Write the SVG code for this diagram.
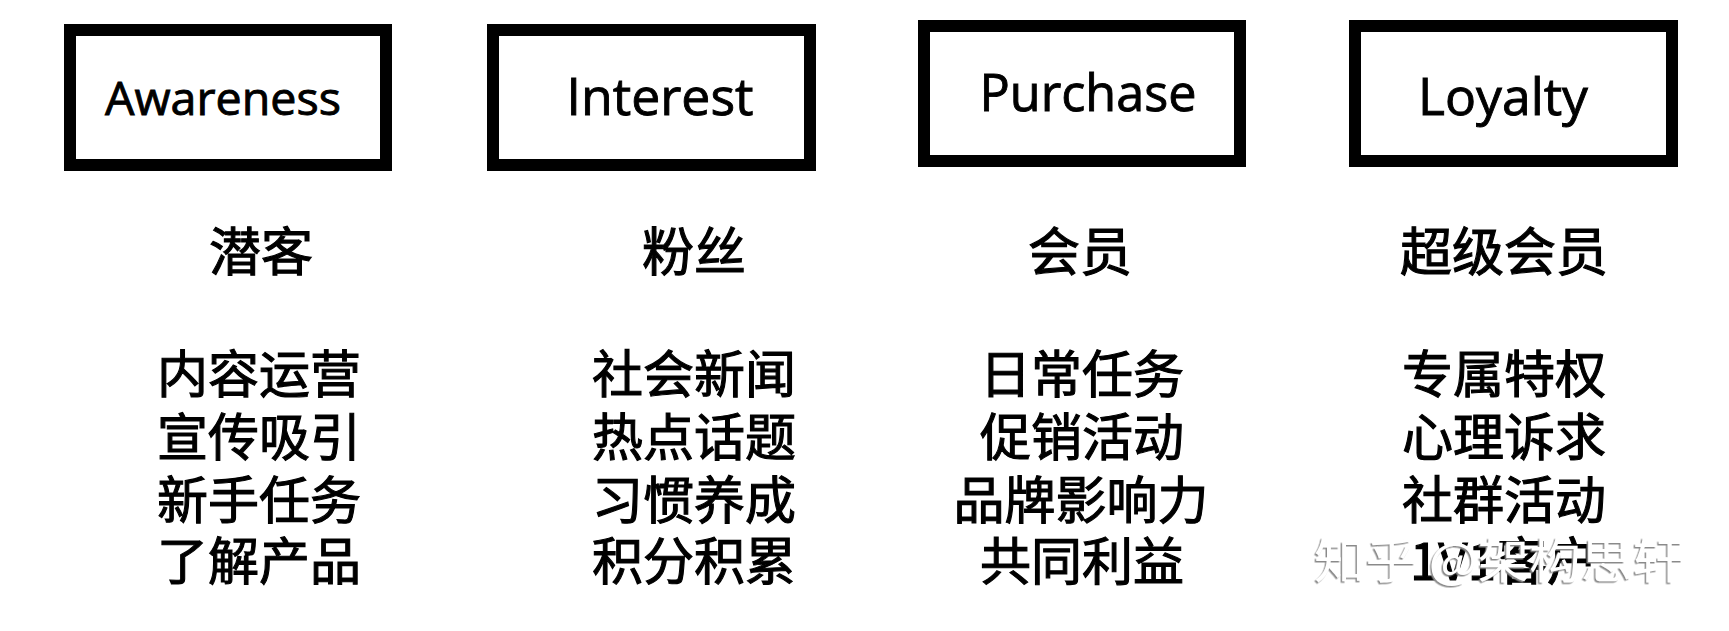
<svg xmlns="http://www.w3.org/2000/svg" width="1729" height="631" viewBox="0 0 1729 631">
<style>
.box{fill:#fff;stroke:#000;stroke-width:12}
.en{font-family:"Open Sans","Noto Sans",sans-serif;font-weight:400;fill:#000;stroke:#000;stroke-width:0.9;text-anchor:middle}
.cn{font-family:"Noto Sans CJK SC","Noto Sans",sans-serif;font-weight:400;fill:#000;stroke:#000;stroke-width:1.1;text-anchor:middle;font-size:51px}
.hd{font-size:52px}
.wm{font-family:"Noto Sans CJK SC",sans-serif;font-size:48px;fill:#fff;filter:url(#sh)}
</style>
<defs>
<filter id="sh" x="-5%" y="-20%" width="110%" height="140%">
<feDropShadow dx="-1.5" dy="1.5" stdDeviation="0.6" flood-color="#8a8a8a" flood-opacity="1"/>
</filter>
</defs>
<rect width="1729" height="631" fill="#fff"/>
<g id="connectors"></g>
<g id="awareness">
<rect class="box" x="70" y="30" width="316" height="135"/>
<text class="en" x="223" y="115" font-size="46" textLength="236" lengthAdjust="spacingAndGlyphs">Awareness</text>
<text class="cn hd" x="261" y="271">潜客</text>
<text class="cn" x="259" y="393"><tspan x="259">内容运营</tspan><tspan x="259" dy="63">宣传吸引</tspan><tspan x="259" dy="63">新手任务</tspan><tspan x="259" dy="61">了解产品</tspan></text>
</g>
<g id="interest">
<rect class="box" x="493" y="30" width="317" height="135"/>
<text class="en" x="660" y="115" font-size="52" textLength="187" lengthAdjust="spacingAndGlyphs">Interest</text>
<text class="cn hd" x="694" y="271">粉丝</text>
<text class="cn" x="694" y="393"><tspan x="694">社会新闻</tspan><tspan x="694" dy="63">热点话题</tspan><tspan x="694" dy="63">习惯养成</tspan><tspan x="694" dy="61">积分积累</tspan></text>
</g>
<g id="purchase">
<rect class="box" x="924" y="26" width="316" height="135"/>
<text class="en" x="1088" y="111" font-size="52" textLength="217" lengthAdjust="spacingAndGlyphs">Purchase</text>
<text class="cn hd" x="1080" y="271">会员</text>
<text class="cn" x="1082" y="393"><tspan x="1082">日常任务</tspan><tspan x="1082" dy="63">促销活动</tspan><tspan x="1081" dy="63">品牌影响力</tspan><tspan x="1082" dy="61">共同利益</tspan></text>
</g>
<g id="loyalty">
<rect class="box" x="1355" y="26" width="317" height="135"/>
<text class="en" x="1503" y="115" font-size="52" textLength="170" lengthAdjust="spacingAndGlyphs">Loyalty</text>
<text class="cn hd" x="1504" y="271">超级会员</text>
<text class="cn" x="1504" y="393"><tspan x="1504">专属特权</tspan><tspan x="1504" dy="63">心理诉求</tspan><tspan x="1504" dy="63">社群活动</tspan><tspan x="1504" dy="61">1V1客户</tspan></text>
</g>
<g id="watermark">
<text class="wm" x="1314" y="578" textLength="370" lengthAdjust="spacingAndGlyphs">知乎 @架构思轩</text>
</g>
</svg>
